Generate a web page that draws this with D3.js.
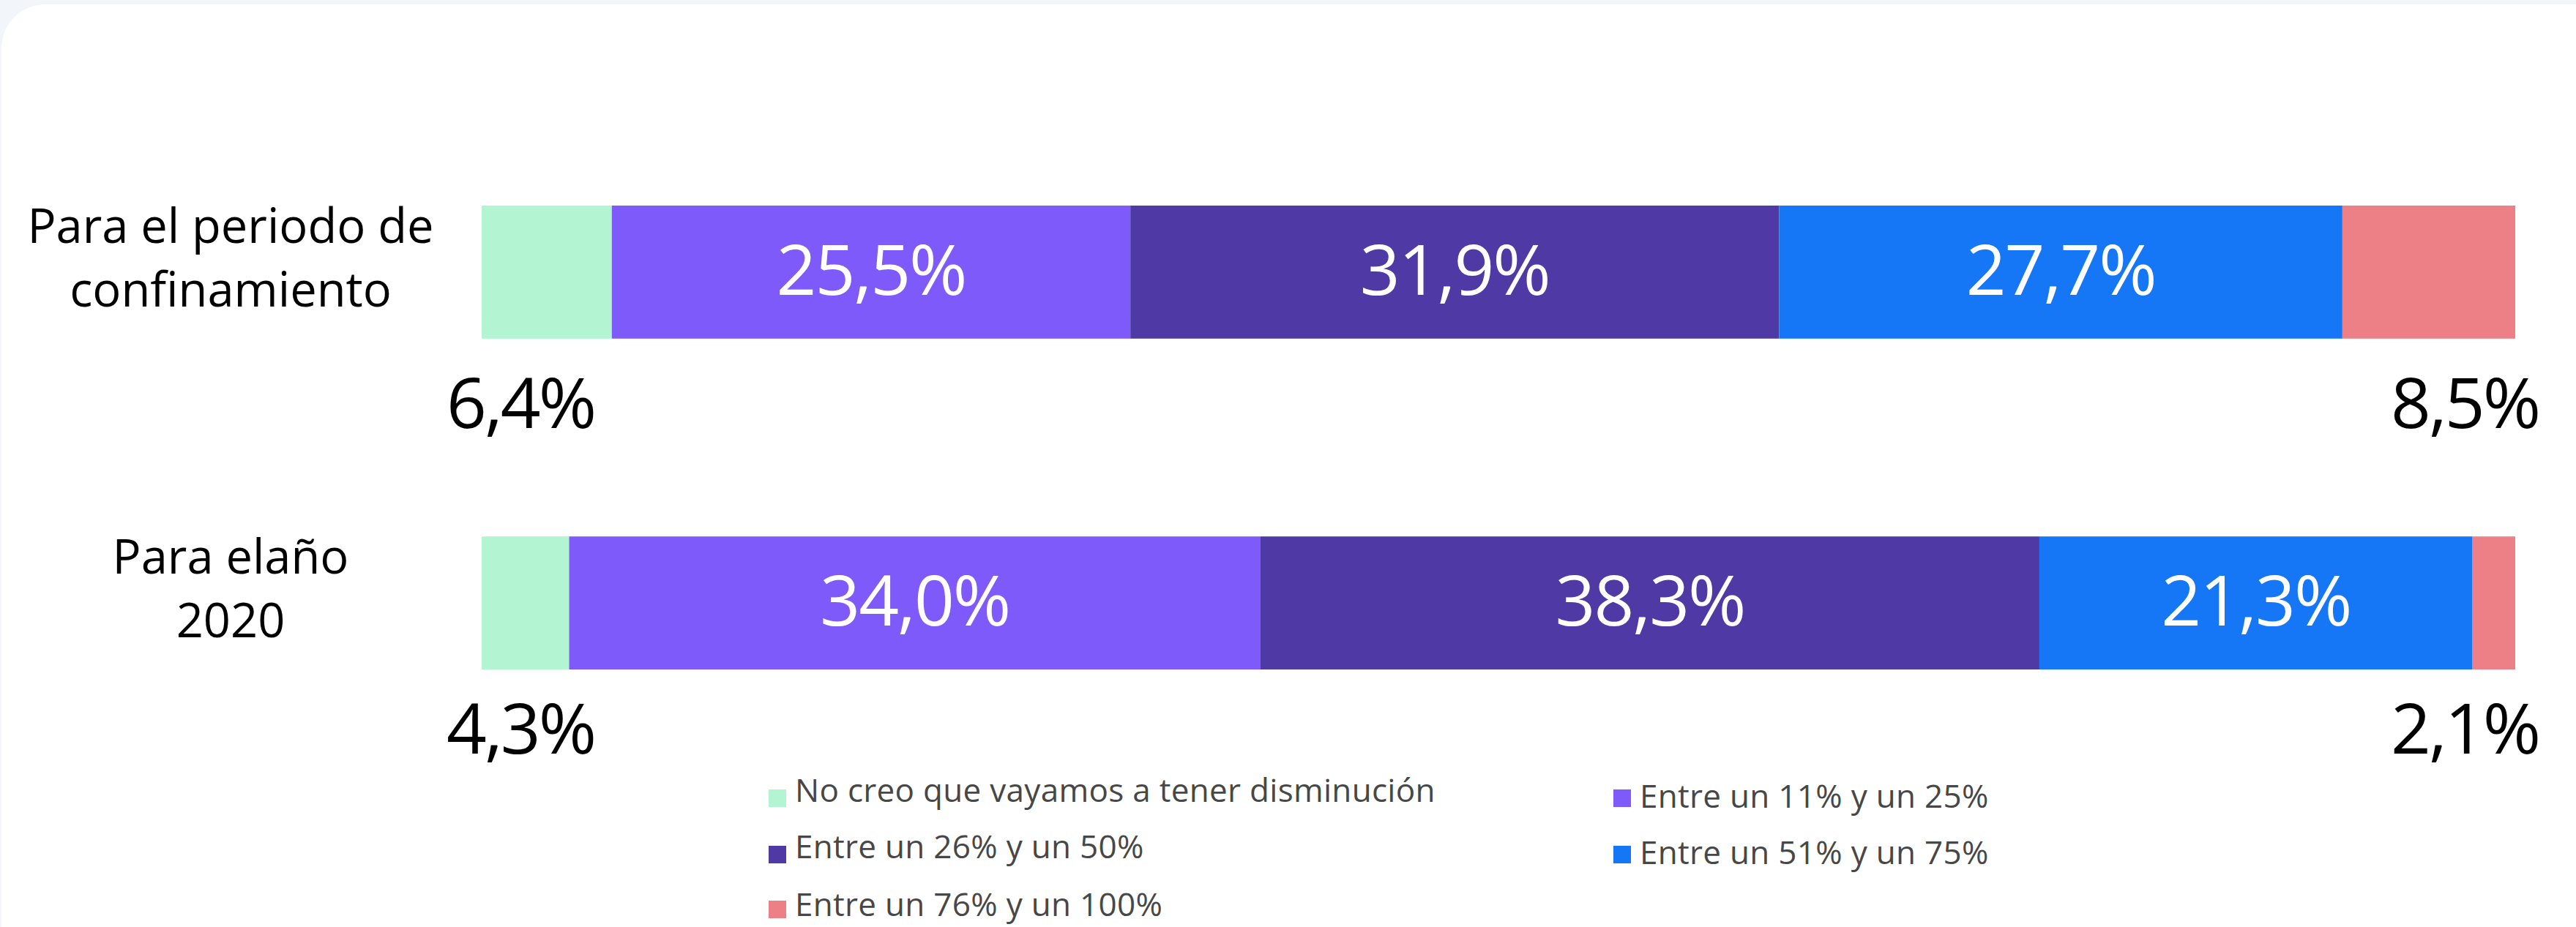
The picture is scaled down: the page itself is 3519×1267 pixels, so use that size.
<!DOCTYPE html>
<html>
<head>
<meta charset="utf-8">
<script src="https://cdn.jsdelivr.net/npm/d3@7"></script>
<style>
  html, body { margin: 0; padding: 0; background: #f2f5f9; }
  svg { display: block; }
</style>
</head>
<body>
<script>
// ---- data ----
const categories = [["Para el periodo de", "confinamiento"], ["Para elaño", "2020"]];
const categoryKeys = ["Para el periodo de confinamiento", "Para elaño 2020"];
const seriesNames = [
  "No creo que vayamos a tener disminución",
  "Entre un 11% y un 25%",
  "Entre un 26% y un 50%",
  "Entre un 51% y un 75%",
  "Entre un 76% y un 100%"
];
const seriesColors = ["#b3f5d3", "#7f5afb", "#4e39a5", "#1677f6", "#ec8086"];
const valuesConfinamiento = [6.4, 25.5, 31.9, 27.7, 8.5];
const values2020 = [4.3, 34.0, 38.3, 21.3, 2.1];
const rowValues = [valuesConfinamiento, values2020];

// ---- layout ----
const W = 3519, H = 1267;
const svg = d3.select("body").append("svg").attr("width", W).attr("height", H);

svg.append("rect").attr("x", 2).attr("y", 6).attr("width", W + 60).attr("height", H + 60)
  .attr("rx", 60).attr("fill", "#ffffff");

const x = d3.scaleLinear().domain([0, 100]).range([658, 3436]);
const y = d3.scaleBand().domain(categoryKeys).range([281, 915]).paddingInner(0.598).paddingOuter(0);

const fmt = v => d3.format(".1f")(v).replace(".", ",") + "%";
const font = "'Open Sans', 'Noto Sans', sans-serif";

const rows = categoryKeys.map((k, i) => {
  let acc = 0;
  const segs = rowValues[i].map((v, j) => {
    const s = { key: k, row: i, idx: j, v, x0: acc, x1: acc + v };
    acc += v;
    return s;
  });
  return { key: k, i, segs };
});

const g = svg.append("g");
const rowG = g.selectAll("g.row").data(rows).join("g").attr("class", "row");

rowG.selectAll("rect").data(d => d.segs).join("rect")
  .attr("x", d => x(d.x0))
  .attr("y", d => y(d.key))
  .attr("width", d => x(d.x1) - x(d.x0))
  .attr("height", y.bandwidth())
  .attr("fill", d => seriesColors[d.idx]);

// inside labels (middle series)
rowG.selectAll("text.inside").data(d => d.segs.filter(s => s.idx > 0 && s.idx < 4)).join("text")
  .attr("class", "inside")
  .attr("x", d => (x(d.x0) + x(d.x1)) / 2)
  .attr("y", d => y(d.key) + y.bandwidth() / 2 + 31)
  .attr("text-anchor", "middle")
  .attr("fill", "#ffffff")
  .attr("font-family", font)
  .attr("font-size", 96)
  .attr("letter-spacing", -2)
  .text(d => fmt(d.v));

// outside labels (first and last series)
const outOff = [122, 115];
rowG.selectAll("text.outside").data(d => [d.segs[0], d.segs[4]]).join("text")
  .attr("class", "outside")
  .attr("x", d => d.idx === 0 ? x(0) + 53 : x(100) - 69)
  .attr("y", d => y(d.key) + y.bandwidth() + outOff[d.row])
  .attr("text-anchor", "middle")
  .attr("fill", "#000000")
  .attr("font-family", font)
  .attr("font-size", 96)
  .attr("letter-spacing", -3)
  .text(d => fmt(d.v));

// category labels
rowG.append("text")
  .attr("text-anchor", "middle")
  .attr("font-family", font)
  .attr("font-size", 65)
  .attr("fill", "#000000")
  .selectAll("tspan").data(d => categories[d.i].map(t => ({ t, key: d.key }))).join("tspan")
  .attr("x", 315)
  .attr("y", (d, j) => y(d.key) + y.bandwidth() / 2 - 40 + j * 87)
  .text(d => d.t);

// legend
const legendPos = [
  { sx: 1050, sy: 1079, ty: 1096 },
  { sx: 2204, sy: 1079, ty: 1104 },
  { sx: 1050, sy: 1156, ty: 1173 },
  { sx: 2204, sy: 1156, ty: 1181 },
  { sx: 1050, sy: 1231, ty: 1252 }
];
const leg = svg.append("g").selectAll("g").data(seriesNames).join("g");
leg.append("rect")
  .attr("x", (d, i) => legendPos[i].sx)
  .attr("y", (d, i) => legendPos[i].sy)
  .attr("width", 24).attr("height", 24)
  .attr("fill", (d, i) => seriesColors[i]);
leg.append("text")
  .attr("x", (d, i) => legendPos[i].sx + 36)
  .attr("y", (d, i) => legendPos[i].ty)
  .attr("font-family", font)
  .attr("font-size", 44)
  .attr("letter-spacing", 0.3)
  .attr("fill", "#474747")
  .text(d => d);
</script>
</body>
</html>
